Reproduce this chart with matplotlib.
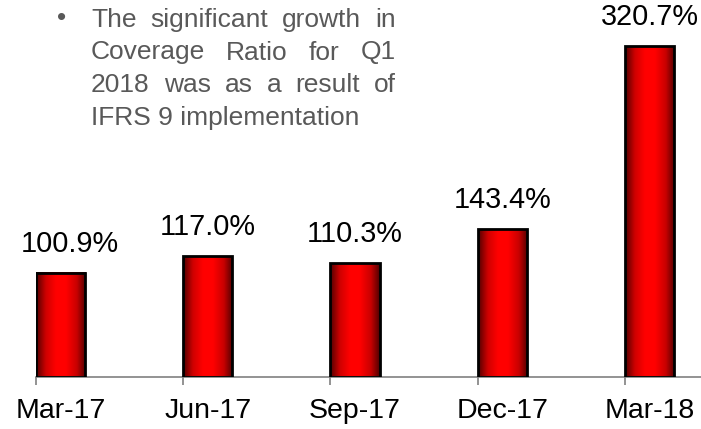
import numpy as np
import matplotlib
matplotlib.use("Agg")
import matplotlib.pyplot as plt
from matplotlib.colors import LinearSegmentedColormap

categories = ["Mar-17", "Jun-17", "Sep-17", "Dec-17", "Mar-18"]
values = [100.9, 117.0, 110.3, 143.4, 320.7]
value_labels = ["100.9%", "117.0%", "110.3%", "143.4%", "320.7%"]
note_lines = ["The significant growth in",
              "Coverage Ratio for Q1",
              "2018 was as a result of",
              "IFRS 9 implementation"]

plt.rcParams['font.family'] = ['Liberation Sans', 'DejaVu Sans']

W, H = 701, 429
fig = plt.figure(figsize=(W / 100, H / 100), dpi=100)

bw = 0.333
x = np.arange(len(categories))
ax = fig.add_axes([36 / W, 52 / H, (W - 36) / W, 377 / H])

cmap = LinearSegmentedColormap.from_list(
    "cyl", [(0, "#500000"), (0.2, "#d00000"), (0.4, "#ff0000"),
            (0.6, "#ff0000"), (0.82, "#c80000"), (1, "#500000")])
grad = np.linspace(0, 1, 256).reshape(1, -1)

for xi, v in zip(x, values):
    ax.imshow(grad, extent=[xi - bw / 2, xi + bw / 2, 0, v], aspect='auto',
              cmap=cmap, zorder=2, interpolation='bilinear')
ax.bar(x, values, width=bw, facecolor='none', edgecolor='black',
       linewidth=2, zorder=3)

for i, (xi, v, lab) in enumerate(zip(x, values, value_labels)):
    dx = 7 if i == 0 else 0
    ax.annotate(lab, (xi, v), xytext=(dx, 11), textcoords='offset points',
                ha='center', va='bottom', fontsize=20.8, color='black')

ax.set_xlim(-bw / 2, (W - 60.5) / 147.25)
ax.set_ylim(0, 377 / 1.032)

for s in ['left', 'top', 'right']:
    ax.spines[s].set_visible(False)
ax.spines['bottom'].set_color('#808080')
ax.spines['bottom'].set_linewidth(1.2)
ax.set_yticks([])
ax.set_xticks(x - bw / 2)
ax.set_xticklabels([])
ax.tick_params(axis='x', which='major', length=6, color='#808080', width=1.2)
ax.set_xticks(x, minor=True)
ax.set_xticklabels(categories, minor=True, fontsize=20.5)
ax.tick_params(axis='x', which='minor', length=0, pad=15)

# Justified note text
gray = '#595959'
fs = 19
left_px, right_px = 91, 396
baselines = [27, 59.5, 92, 125]
fig.text(61.7 / W, 1 - 18 / H, "\u2022", fontsize=fs, color=gray,
         ha='center', va='center')
fig.canvas.draw()
renderer = fig.canvas.get_renderer()
for i, line in enumerate(note_lines):
    words = line.split()
    y = 1 - baselines[i] / H
    if i == len(note_lines) - 1:
        fig.text(left_px / W, y, line, fontsize=fs, color=gray,
                 ha='left', va='baseline')
        continue
    texts = [fig.text(0, y, w, fontsize=fs, color=gray, ha='left',
                      va='baseline') for w in words]
    widths = [t.get_window_extent(renderer).width for t in texts]
    gap = (right_px - left_px - sum(widths)) / (len(words) - 1)
    pos = left_px
    for t, wd in zip(texts, widths):
        t.set_x(pos / W)
        pos += wd + gap

fig.savefig("out.png", dpi=100)
